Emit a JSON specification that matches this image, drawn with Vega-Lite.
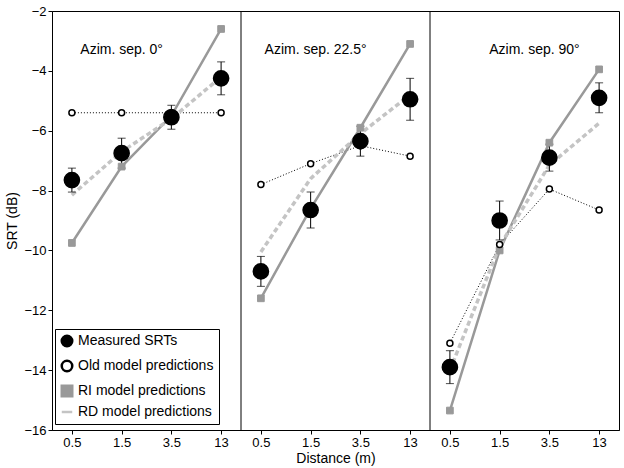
{
  "$schema": "https://vega.github.io/schema/vega-lite/v6.json",
  "background": "white",
  "width": 624,
  "height": 468,
  "autosize": {"type": "fit", "contains": "padding"},
  "padding": {"left": 5, "right": 5, "top": 5, "bottom": 3},
  "config": {
    "font": "Liberation Sans",
    "view": {"stroke": "black", "strokeWidth": 1},
    "axis": {"labelFontSize": 13, "titleFontSize": 14, "titleFontWeight": "normal", "grid": false, "tickColor": "black", "domainColor": "black", "labelColor": "black", "titleColor": "black"}
  },
  "data": {"values": [
    {"panel": 1, "x": 0.4, "series": "Measured SRTs", "value": -7.65, "lo": -8.05, "hi": -7.25},
    {"panel": 1, "x": 1.4, "series": "Measured SRTs", "value": -6.75, "lo": -7.25, "hi": -6.25},
    {"panel": 1, "x": 2.4, "series": "Measured SRTs", "value": -5.55, "lo": -5.95, "hi": -5.15},
    {"panel": 1, "x": 3.4, "series": "Measured SRTs", "value": -4.25, "lo": -4.8, "hi": -3.7},
    {"panel": 1, "x": 0.4, "series": "Old model predictions", "value": -5.4},
    {"panel": 1, "x": 1.4, "series": "Old model predictions", "value": -5.4},
    {"panel": 1, "x": 2.4, "series": "Old model predictions", "value": -5.4},
    {"panel": 1, "x": 3.4, "series": "Old model predictions", "value": -5.4},
    {"panel": 1, "x": 0.4, "series": "RI model predictions", "value": -9.75},
    {"panel": 1, "x": 1.4, "series": "RI model predictions", "value": -7.2},
    {"panel": 1, "x": 2.4, "series": "RI model predictions", "value": -5.5},
    {"panel": 1, "x": 3.4, "series": "RI model predictions", "value": -2.6},
    {"panel": 1, "x": 0.4, "series": "RD model predictions", "value": -8.15},
    {"panel": 1, "x": 1.4, "series": "RD model predictions", "value": -6.7},
    {"panel": 1, "x": 2.4, "series": "RD model predictions", "value": -5.6},
    {"panel": 1, "x": 3.4, "series": "RD model predictions", "value": -4.2},
    {"panel": 2, "x": 4.2, "series": "Measured SRTs", "value": -10.7, "lo": -11.2, "hi": -10.2},
    {"panel": 2, "x": 5.2, "series": "Measured SRTs", "value": -8.65, "lo": -9.25, "hi": -8.05},
    {"panel": 2, "x": 6.2, "series": "Measured SRTs", "value": -6.35, "lo": -6.85, "hi": -5.85},
    {"panel": 2, "x": 7.2, "series": "Measured SRTs", "value": -4.95, "lo": -5.65, "hi": -4.25},
    {"panel": 2, "x": 4.2, "series": "Old model predictions", "value": -7.8},
    {"panel": 2, "x": 5.2, "series": "Old model predictions", "value": -7.1},
    {"panel": 2, "x": 6.2, "series": "Old model predictions", "value": -6.5},
    {"panel": 2, "x": 7.2, "series": "Old model predictions", "value": -6.85},
    {"panel": 2, "x": 4.2, "series": "RI model predictions", "value": -11.6},
    {"panel": 2, "x": 5.2, "series": "RI model predictions", "value": -8.6},
    {"panel": 2, "x": 6.2, "series": "RI model predictions", "value": -5.9},
    {"panel": 2, "x": 7.2, "series": "RI model predictions", "value": -3.1},
    {"panel": 2, "x": 4.2, "series": "RD model predictions", "value": -10.05},
    {"panel": 2, "x": 5.2, "series": "RD model predictions", "value": -7.6},
    {"panel": 2, "x": 6.2, "series": "RD model predictions", "value": -6.1},
    {"panel": 2, "x": 7.2, "series": "RD model predictions", "value": -4.8},
    {"panel": 3, "x": 8.0, "series": "Measured SRTs", "value": -13.9, "lo": -14.45, "hi": -13.35},
    {"panel": 3, "x": 9.0, "series": "Measured SRTs", "value": -9.0, "lo": -9.65, "hi": -8.35},
    {"panel": 3, "x": 10.0, "series": "Measured SRTs", "value": -6.9, "lo": -7.35, "hi": -6.45},
    {"panel": 3, "x": 11.0, "series": "Measured SRTs", "value": -4.9, "lo": -5.4, "hi": -4.4},
    {"panel": 3, "x": 8.0, "series": "Old model predictions", "value": -13.1},
    {"panel": 3, "x": 9.0, "series": "Old model predictions", "value": -9.8},
    {"panel": 3, "x": 10.0, "series": "Old model predictions", "value": -7.95},
    {"panel": 3, "x": 11.0, "series": "Old model predictions", "value": -8.65},
    {"panel": 3, "x": 8.0, "series": "RI model predictions", "value": -15.35},
    {"panel": 3, "x": 9.0, "series": "RI model predictions", "value": -10.0},
    {"panel": 3, "x": 10.0, "series": "RI model predictions", "value": -6.4},
    {"panel": 3, "x": 11.0, "series": "RI model predictions", "value": -3.95},
    {"panel": 3, "x": 8.0, "series": "RD model predictions", "value": -14.0},
    {"panel": 3, "x": 9.0, "series": "RD model predictions", "value": -9.85},
    {"panel": 3, "x": 10.0, "series": "RD model predictions", "value": -7.15},
    {"panel": 3, "x": 11.0, "series": "RD model predictions", "value": -5.75},
    {"panel": 1, "x": 1.4, "series": "title", "value": -3.3, "label": "Azim. sep. 0°"},
    {"panel": 2, "x": 5.3, "series": "title", "value": -3.3, "label": "Azim. sep. 22.5°"},
    {"panel": 3, "x": 9.7, "series": "title", "value": -3.3, "label": "Azim. sep. 90°"},
    {"panel": 0, "x": 3.8, "series": "sep", "value": -16},
    {"panel": 0, "x": 7.6, "series": "sep", "value": -16}
  ]},
  "encoding": {
    "x": {"field": "x", "type": "quantitative", "title": "Distance (m)", "scale": {"domain": [0, 11.4], "nice": false, "zero": false},
          "axis": {"values": [0.4, 1.4, 2.4, 3.4, 4.2, 5.2, 6.2, 7.2, 8.0, 9.0, 10.0, 11.0], "tickSize": 4, "titlePadding": 2,
                   "labelExpr": "['0.5','1.5','3.5','13'][round((datum.value % 3.8) - 0.4)]"}},
    "y": {"field": "value", "type": "quantitative", "title": "SRT (dB)", "scale": {"domain": [-16, -2], "nice": false, "zero": false},
          "axis": {"values": [-16, -14, -12, -10, -8, -6, -4, -2], "tickSize": 4}},
    "shape": {"field": "series", "type": "nominal", "title": null, "scale": {"domain": ["Measured SRTs", "Old model predictions", "RI model predictions", "RD model predictions"], "range": ["circle", "circle", "square", "stroke"]},
      "legend": {"orient": "none", "legendX": 3, "legendY": 318, "labelFontSize": 14, "symbolSize": 110, "symbolStrokeWidth": 2.5, "fillColor": "white", "strokeColor": "black", "padding": 5, "rowPadding": 3, "labelLimit": 250}},
    "color": {"field": "series", "type": "nominal", "title": null, "scale": {"domain": ["Measured SRTs", "Old model predictions", "RI model predictions", "RD model predictions"], "range": ["black", "black", "#999999", "#c4c4c4"]}},
    "fill": {"field": "series", "type": "nominal", "title": null, "scale": {"domain": ["Measured SRTs", "Old model predictions", "RI model predictions", "RD model predictions"], "range": ["black", "white", "#999999", "#c4c4c4"]}}
  },
  "layer": [
    {
      "transform": [{"filter": "datum.series === 'sep'"}],
      "mark": {"type": "rule", "color": "black", "strokeWidth": 1},
      "encoding": {"y": {"datum": -16}, "y2": {"datum": -2}, "shape": null, "color": null, "fill": null}
    },
    {
      "transform": [{"filter": "datum.series === 'Old model predictions'"}],
      "mark": {"type": "line", "color": "black", "strokeWidth": 1, "strokeDash": [1, 2]},
      "encoding": {"detail": {"field": "panel"}, "shape": null, "color": null, "fill": null}
    },
    {
      "transform": [{"filter": "datum.series === 'RI model predictions'"}],
      "mark": {"type": "line", "color": "#999999", "strokeWidth": 2.5},
      "encoding": {"detail": {"field": "panel"}, "shape": null, "color": null, "fill": null}
    },
    {
      "transform": [{"filter": "datum.series === 'RD model predictions'"}],
      "mark": {"type": "line", "color": "#c4c4c4", "strokeWidth": 3.5, "strokeDash": [5, 3]},
      "encoding": {"detail": {"field": "panel"}, "shape": null, "color": null, "fill": null}
    },
    {
      "transform": [{"filter": "datum.series === 'Measured SRTs'"}],
      "mark": {"type": "errorbar", "ticks": {"size": 8, "color": "black"}, "rule": {"color": "black"}},
      "encoding": {"y": {"field": "lo", "type": "quantitative"}, "y2": {"field": "hi"}, "shape": null, "color": null, "fill": null}
    },
    {
      "transform": [{"filter": "datum.series === 'RI model predictions'"}],
      "mark": {"type": "point", "filled": false, "opacity": 1, "strokeWidth": 1, "size": 45}
    },
    {
      "transform": [{"filter": "datum.series === 'Old model predictions'"}],
      "mark": {"type": "point", "filled": false, "opacity": 1, "strokeWidth": 1.5, "size": 36}
    },
    {
      "transform": [{"filter": "datum.series === 'Measured SRTs'"}],
      "mark": {"type": "point", "filled": false, "opacity": 1, "strokeWidth": 1.5, "size": 230}
    },
    {
      "transform": [{"filter": "datum.series === 'title'"}],
      "mark": {"type": "text", "fontSize": 14, "color": "black"},
      "encoding": {"text": {"field": "label"}, "shape": null, "color": null, "fill": null}
    }
  ]
}
